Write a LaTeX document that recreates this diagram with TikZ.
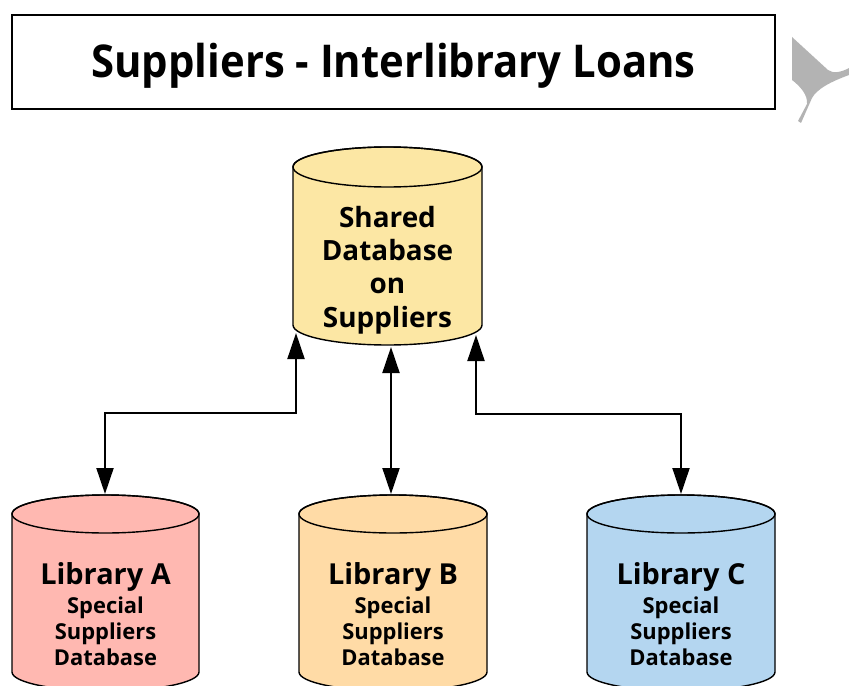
\documentclass[tikz,border=0pt]{standalone}
\usepackage{fontspec}
\setmainfont{Open Sans}
\usetikzlibrary{arrows.meta}
\definecolor{cylTop}{HTML}{FCE7A4}
\definecolor{cylA}{HTML}{FFB8B1}
\definecolor{cylB}{HTML}{FFDBA6}
\definecolor{cylC}{HTML}{B4D6F0}
\definecolor{decoGray}{HTML}{B3B3B3}
\newcommand{\mycyl}[6]{%
  % #1 cx, #2 top y, #3 bottom y, #4 rx, #5 ry, #6 colour
  \path[cylbody, fill=#6] (#1-#4,#2) -- (#1-#4,#3)
    arc[start angle=180, end angle=0, x radius=#4, y radius=#5]
    -- (#1+#4,#2)
    arc[start angle=0, end angle=-180, x radius=#4, y radius=#5] -- cycle;
  \draw[cylbody] (#1,#2) ellipse [x radius=#4, y radius=#5];
}
\begin{document}
\begin{tikzpicture}[x=1bp, y=-1bp,
  cylbody/.style={draw=black, line width=1.4bp},
  titlebox/.style={draw=black, line width=1.3bp, fill=white},
  link/.style={line width=2bp, {Triangle[width=17bp,length=26bp]}-{Triangle[width=17bp,length=26bp]}},
  bigtext/.style={font=\bfseries\fontsize{28}{33.3}\selectfont, align=center, inner sep=0pt},
  libhead/.style={font=\bfseries\fontsize{29}{32}\selectfont, inner sep=0pt},
  libtext/.style={font=\bfseries\fontsize{22}{26}\selectfont, align=center, inner sep=0pt}
]
\useasboundingbox[fill=white] (0,0) rectangle (849,686);

% title
\node[titlebox, minimum width=763bp, minimum height=94bp, inner sep=0pt,
      text height=36bp, text depth=4bp,
      font=\bfseries\fontsize{42}{48}\selectfont] (title) at (393.5,62) {\scalebox{1}[1.08]{Suppliers - Interlibrary Loans}};

% decorative gray shape
\fill[decoGray] (792,37) -- (828,70) .. controls (833,74) and (842,72) .. (849,68)
  -- (849,75) .. controls (830,82) and (817,89) .. (812,98)
  -- (801,123) -- (798,121) -- (807,104) .. controls (808,95) and (800,86) .. (792,80) -- cycle;

% shared database cylinder
\mycyl{387.5}{167}{325}{94.5}{20}{cylTop}
\node[bigtext] (shared) at (387.5,270) {Shared\\Database\\on\\Suppliers};

% library cylinders
\mycyl{105.5}{514}{672}{93.5}{19}{cylA}
\mycyl{393}{514}{672}{94}{19}{cylB}
\mycyl{681}{514}{672}{94}{19}{cylC}

\node[libhead] (headA) at (105.5,577) {Library A};
\node[libtext] (textA) at (105.5,631) {Special\\Suppliers\\Database};
\node[libhead] (headB) at (393,577) {Library B};
\node[libtext] (textB) at (393,631) {Special\\Suppliers\\Database};
\node[libhead] (headC) at (681,577) {Library C};
\node[libtext] (textC) at (681,631) {Special\\Suppliers\\Database};

% connector end points
\coordinate (sharedL) at (296,333);
\coordinate (sharedM) at (391,347);
\coordinate (sharedR) at (476,335);
\coordinate (libAtop) at (105,494);
\coordinate (libBtop) at (391,494);
\coordinate (libCtop) at (681,494);

\draw[link] (libAtop) |- (296,413) -- (sharedL);
\draw[link] (sharedM) -- (libBtop);
\draw[link] (sharedR) |- (681,414) -- (libCtop);
\end{tikzpicture}
\end{document}
